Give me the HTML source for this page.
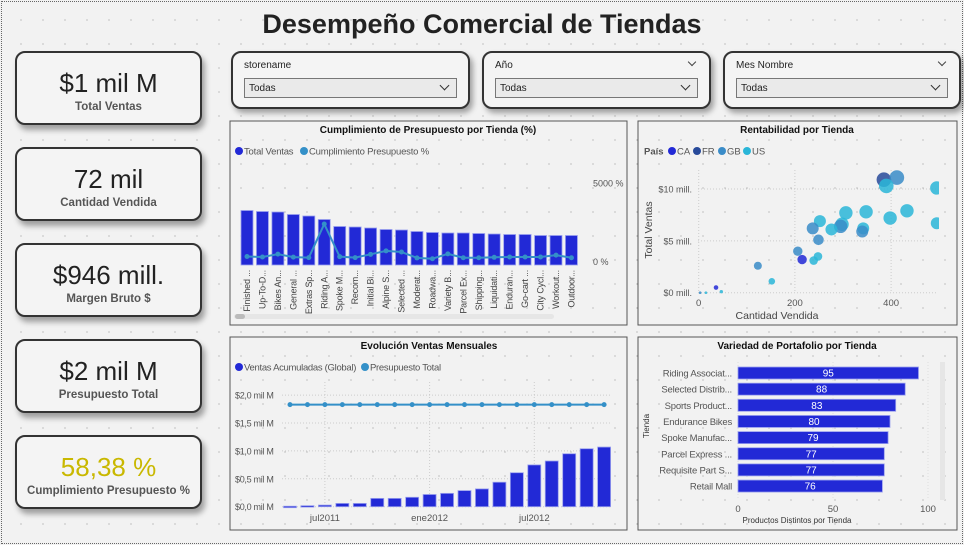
<!DOCTYPE html>
<html><head><meta charset="utf-8">
<style>
*{box-sizing:border-box;margin:0;padding:0}
body{width:964px;height:545px;overflow:hidden;background:#f2f2f2;font-family:"Liberation Sans",sans-serif;position:relative}
#frame{position:absolute;left:1px;top:1px;width:962px;height:543px;border:1px dotted #666;background-image:radial-gradient(circle,#999 0.5px,transparent 0.8px);background-size:22px 24px;background-position:8px 6px}
.card{position:absolute;left:15px;width:187px;height:74px;background:#f4f4f4;border:2px solid #333;border-radius:10px;box-shadow:3px 5px 6px rgba(0,0,0,.35);text-align:center}
.card .v{font-size:26px;color:#222;margin-top:15px;line-height:30px}
.card .l{font-size:11.5px;font-weight:bold;color:#555;margin-top:3px}
.slicer{position:absolute;top:51px;height:58px;background:#f4f4f4;border:2px solid #333;border-radius:10px;box-shadow:3px 4px 6px rgba(0,0,0,.35)}
.slicer .t{position:absolute;left:11px;top:7px;font-size:10px;color:#222}
.slicer .dd{position:absolute;left:11px;top:25px;right:11px;height:20px;border:1px solid #777;background:#eaeaea;font-size:10px;padding:4px 4px;color:#222}
.slicer .dd:after{content:"";position:absolute;right:8px;top:3px;width:6px;height:6px;border-right:1px solid #333;border-bottom:1px solid #333;transform:rotate(45deg)}
.chev{position:absolute;right:14px;top:6px;width:6px;height:6px;border-right:1px solid #444;border-bottom:1px solid #444;transform:rotate(45deg)}
h1{position:absolute;left:0;width:964px;top:9px;text-align:center;font-size:27px;font-weight:bold;color:#222}
svg{position:absolute;left:0;top:0}
</style></head><body>
<div id="frame"></div>
<h1>Desempeño Comercial de Tiendas</h1>

<div class="card" style="top:51px"><div class="v">$1 mil M</div><div class="l">Total Ventas</div></div>
<div class="card" style="top:147px"><div class="v">72 mil</div><div class="l">Cantidad Vendida</div></div>
<div class="card" style="top:243px"><div class="v">$946 mill.</div><div class="l">Margen Bruto $</div></div>
<div class="card" style="top:339px"><div class="v">$2 mil M</div><div class="l">Presupuesto Total</div></div>
<div class="card" style="top:435px"><div class="v" style="color:#c9b800">58,38 %</div><div class="l">Cumplimiento Presupuesto %</div></div>

<div class="slicer" style="left:231px;width:239px"><div class="t">storename</div><div class="dd">Todas</div></div>
<div class="slicer" style="left:482px;width:229px"><div class="t">Año</div><div class="chev"></div><div class="dd">Todas</div></div>
<div class="slicer" style="left:723px;width:238px"><div class="t">Mes Nombre</div><div class="chev"></div><div class="dd">Todas</div></div>

<svg id="s" width="964" height="545" font-family="Liberation Sans, sans-serif">
<rect x="230" y="121" width="397" height="204" fill="none" stroke="#555"/>
<rect x="638" y="121" width="319" height="204" fill="none" stroke="#555"/>
<rect x="230" y="337" width="397" height="193" fill="none" stroke="#555"/>
<rect x="638" y="337" width="319" height="193" fill="none" stroke="#555"/>
</svg>

<script>
// ---- Chart 1 data ----
const storeLabels=["Finished ...","Up-To-D...","Bikes An...","General ...","Extras Sp...","Riding A...","Spoke M...","Recom...","Initial Bi...","Alpine S...","Selected ...","Moderat...","Roadwa...","Variety B...","Parcel Ex...","Shipping...","Liquidati...","Enduran...","Go-cart ...","City Cycl...","Workout...","Outdoor..."];
const storeSales=[10.9,10.7,10.6,10.1,9.8,9.1,7.7,7.6,7.4,7.1,7.0,6.7,6.5,6.4,6.4,6.3,6.2,6.1,6.1,5.9,5.9,5.9];
const storePct=[330,300,480,290,260,2400,320,260,470,690,620,240,190,500,250,250,280,300,300,300,420,250];
const pctTicks=[0,5000];
// ---- Scatter data ----
const scX=[385,412,390,495,433,398,495,348,306,342,340,298,295,276,252,237,249,206,215,248,239,123,152,36,47,15,3];
const scY=[10.9,11.1,10.3,10.1,7.9,7.2,6.7,7.8,7.7,6.2,5.9,6.6,6.4,6.1,6.9,6.2,5.1,4.0,3.2,3.5,3.1,2.6,1.1,0.5,0.1,0,0];
const scSize=[7.3,7.3,7.3,6.7,6.7,6.7,6,6.7,6.7,6,6,6.7,6.7,6,6,6,5.3,4.7,4.7,4.3,4.3,4,3.3,2.3,1.7,1.3,1.3];
const scCountry=["FR","GB","US","US","US","US","US","US","US","US","GB","US","GB","US","US","GB","GB","GB","CA","US","US","GB","US","CA","US","US","GB"];
const scXTicks=[0,200,400];
const scYTicks=[0,5,10];
// ---- Monthly data ----
const months=["may2011","jun2011","jul2011","ago2011","sep2011","oct2011","nov2011","dic2011","ene2012","feb2012","mar2012","abr2012","may2012","jun2012","jul2012","ago2012","sep2012","oct2012","nov2012"];
const monthSales=[0.0,0.01,0.02,0.05,0.05,0.14,0.14,0.16,0.21,0.23,0.28,0.31,0.43,0.60,0.74,0.81,0.94,1.03,1.06];
const monthBudget=[1.83,1.83,1.83,1.83,1.83,1.83,1.83,1.83,1.83,1.83,1.83,1.83,1.83,1.83,1.83,1.83,1.83,1.83,1.83];
const monthTicks=[0,0.5,1.0,1.5,2.0];
const monthTickLabels=["$0,0 mil M","$0,5 mil M","$1,0 mil M","$1,5 mil M","$2,0 mil M"];
const monthXLabels=["jul2011","ene2012","jul2012"];
const monthXIdx=[2,8,14];
// ---- Portfolio data ----
const pfStores=["Riding Associat...","Selected Distrib...","Sports Product...","Endurance Bikes","Spoke Manufac...","Parcel Express ...","Requisite Part S...","Retail Mall"];
const pfValues=[95,88,83,80,79,77,77,76];
const pfTicks=[0,50,100];

const S=document.getElementById('s');const NS="http://www.w3.org/2000/svg";
function mk(tag,a,txt){const e=document.createElementNS(NS,tag);for(const k in a)e.setAttribute(k,a[k]);if(txt!==undefined)e.textContent=txt;S.appendChild(e);return e;}

// ===== Chart 1 =====
let t=mk('text',{x:428,y:133,'font-size':10,'font-weight':'bold','text-anchor':'middle',fill:'#111'},'Cumplimiento de Presupuesto por Tienda (%)');


let c=mk('circle',{cx:239,cy:151,r:4,fill:'#2229d6'});


mk('text',{x:244,y:154.5,'font-size':9.5,fill:'#555','letter-spacing':'-0.2'},'Total Ventas');
c=mk('circle',{cx:304,cy:151,r:4,fill:'#3490c8'});


mk('text',{x:309,y:154.5,'font-size':9.5,fill:'#555','letter-spacing':'-0.2'},'Cumplimiento Presupuesto %');
const b1x=i=>241+i*15.45, b1w=12, base1=265;
const b1y=v=>base1-v*5;
const p1y=v=>261.7-v/5000*78.5;
pctTicks.forEach((v,i)=>{let e=mk('text',{x:593,y:p1y(v)+3.5,'font-size':9,fill:'#555'},v+' %');

});
storeSales.forEach((v,i)=>{let r=mk('rect',{x:b1x(i),y:b1y(v),width:b1w,height:base1-b1y(v),fill:'#2229d6',stroke:'#9aa0ee','stroke-width':0.8});


let lx=b1x(i)+b1w/2+3;
let l=mk('text',{x:lx,y:270,'font-size':9,fill:'#444','text-anchor':'end','letter-spacing':'-0.2',transform:`rotate(-90 ${lx} 270)`},storeLabels[i]);

});
let pts=storePct.map((v,i)=>(b1x(i)+b1w/2)+','+p1y(v)).join(' ');
let pl=mk('polyline',{points:pts,fill:'none',stroke:'#3490c8','stroke-width':2});


storePct.forEach((v,i)=>{let e=mk('circle',{cx:b1x(i)+b1w/2,cy:p1y(v),r:2.5,fill:'#3490c8'});

});
let sb=mk('rect',{x:234,y:314,width:320,height:5,rx:2.5,fill:'#e6e6e6'});


mk('rect',{x:235,y:314,width:10,height:5,rx:2.5,fill:'#bbb'});

// ===== Scatter =====
t=mk('text',{x:797,y:133,'font-size':10,'font-weight':'bold','text-anchor':'middle',fill:'#111'},'Rentabilidad por Tienda');


const cc={CA:'#2229d6',FR:'#284a9a',GB:'#3a8cc8',US:'#2ab6d8'};
mk('text',{x:644,y:154.5,'font-size':9.5,'font-weight':'bold',fill:'#555'},'País');
[['CA',672],['FR',697],['GB',722],['US',747]].forEach(([k,x])=>{let e=mk('circle',{cx:x,cy:151,r:4,fill:cc[k]});


mk('text',{x:x+5,y:154.5,'font-size':9.5,fill:'#555'},k);});
const sx=v=>698.7+v*0.481, sy=v=>292.7-v*10.37;
scYTicks.forEach(v=>{mk('line',{x1:698,x2:938,y1:sy(v),y2:sy(v),stroke:'#ccc','stroke-dasharray':'1,2'});
let e=mk('text',{x:692,y:sy(v)+3.5,'font-size':9,fill:'#555','text-anchor':'end'},'$'+v+' mill.');

});
scXTicks.forEach(v=>{mk('line',{x1:sx(v),x2:sx(v),y1:170,y2:293,stroke:'#ccc','stroke-dasharray':'1,2'});
let e=mk('text',{x:sx(v),y:306,'font-size':9.5,fill:'#555','text-anchor':'middle'},v);

});
mk('defs',{}).innerHTML='<clipPath id="scl"><rect x="660" y="160" width="279" height="145"/></clipPath>';
const g=mk('g',{'clip-path':'url(#scl)'});
scX.forEach((v,i)=>{const e=document.createElementNS(NS,'circle');
e.setAttribute('cx',sx(v));e.setAttribute('cy',sy(scY[i]));e.setAttribute('r',scSize[i]);e.setAttribute('fill',cc[scCountry[i]]);e.setAttribute('fill-opacity',0.85);


g.appendChild(e);});
t=mk('text',{x:777,y:319,'font-size':10.5,fill:'#444','text-anchor':'middle'},'Cantidad Vendida');


t=mk('text',{x:652,y:230,'font-size':10.5,fill:'#444','text-anchor':'middle',transform:'rotate(-90 652 230)'},'Total Ventas');



// ===== Monthly =====
t=mk('text',{x:429,y:349,'font-size':10,'font-weight':'bold','text-anchor':'middle',fill:'#111'},'Evolución Ventas Mensuales');


c=mk('circle',{cx:239,cy:367,r:4,fill:'#2229d6'});


mk('text',{x:244,y:370.5,'font-size':9.5,fill:'#555','letter-spacing':'-0.3'},'Ventas Acumuladas (Global)');
c=mk('circle',{cx:365,cy:367,r:4,fill:'#3490c8'});


mk('text',{x:370,y:370.5,'font-size':9.5,fill:'#555','letter-spacing':'-0.3'},'Presupuesto Total');
const mx=i=>290+i*17.45, my=v=>506.7-v*55.8;
monthTicks.forEach((v,i)=>{mk('line',{x1:282,x2:612,y1:my(v),y2:my(v),stroke:'#ccc','stroke-dasharray':'1,2'});
let e=mk('text',{x:235,y:my(v)+3.5,'font-size':9,fill:'#555','letter-spacing':'-0.3'},monthTickLabels[i]);

});
monthXIdx.forEach((idx,i)=>{mk('line',{x1:mx(idx),x2:mx(idx),y1:382,y2:507,stroke:'#ccc','stroke-dasharray':'1,2'});
let e=mk('text',{x:mx(idx),y:521,'font-size':9.5,fill:'#555','text-anchor':'middle'},monthXLabels[i]);

});
monthSales.forEach((v,i)=>{let r=mk('rect',{x:mx(i)-6.5,y:my(v)-0.5,width:13,height:Math.max(1,506.7-my(v))+0.5,fill:'#2229d6',stroke:'#9aa0ee','stroke-width':0.8});

});
pl=mk('polyline',{points:monthBudget.map((v,i)=>mx(i)+','+my(v)).join(' '),fill:'none',stroke:'#3490c8','stroke-width':2});


monthBudget.forEach((v,i)=>{let e=mk('circle',{cx:mx(i),cy:my(v),r:2.5,fill:'#3490c8'});

});

// ===== Portfolio =====
t=mk('text',{x:797,y:349,'font-size':10,'font-weight':'bold','text-anchor':'middle',fill:'#111'},'Variedad de Portafolio por Tienda');


const px=v=>738+v*1.9, py=i=>373+i*16.15;
pfTicks.forEach(v=>{mk('line',{x1:px(v),x2:px(v),y1:362,y2:500,stroke:'#ddd','stroke-dasharray':'1,2'});
let e=mk('text',{x:px(v),y:512,'font-size':9.5,fill:'#555','text-anchor':'middle'},v);

});
mk('rect',{x:940,y:362,width:5,height:138,fill:'#e6e6e6'});
pfValues.forEach((v,i)=>{let r=mk('rect',{x:px(0),y:py(i)-6,width:px(v)-px(0),height:12,fill:'#2229d6',stroke:'#9aa0ee','stroke-width':0.8});


let e=mk('text',{x:(px(0)+px(v))/2,y:py(i)+3.5,'font-size':10,fill:'#fff','text-anchor':'middle'},v);


e=mk('text',{x:732,y:py(i)+3.5,'font-size':9.5,fill:'#555','text-anchor':'end','letter-spacing':'-0.2'},pfStores[i]);

});
t=mk('text',{x:797,y:523,'font-size':8,fill:'#333','text-anchor':'middle'},'Productos Distintos por Tienda');


t=mk('text',{x:649,y:426,'font-size':8,fill:'#333','text-anchor':'middle',transform:'rotate(-90 649 426)'},'Tienda');


</script>
</body></html>
